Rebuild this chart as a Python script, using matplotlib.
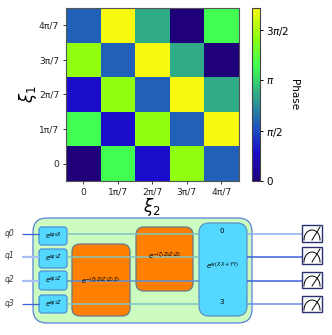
#!/usr/bin/env python3
"""Phase heatmap above the circuit sketch it comes from."""
import numpy as np
import matplotlib
matplotlib.use("Agg")
import matplotlib.pyplot as plt
from matplotlib.colors import LinearSegmentedColormap
from matplotlib.patches import FancyBboxPatch, Rectangle

# phase values in units of pi/7, rows from xi_1 = 0 upwards
phase_units = [
    [0, 8, 2, 10, 4],
    [8, 2, 10, 4, 12],
    [2, 10, 4, 12, 6],
    [10, 4, 12, 6, 0],
    [4, 12, 6, 0, 8],
]
tick_labels = ["0", "1π/7", "2π/7", "3π/7", "4π/7"]
cbar_ticks = [0, np.pi / 2, np.pi, 3 * np.pi / 2]
cbar_labels = ["0", r"$\pi/2$", r"$\pi$", r"$3\pi/2$"]
cmap_colors = ["#20007a", "#1a0dcc", "#2060b8", "#30aa88", "#40ff50", "#90ff10", "#f8f810"]

qubit_names = ["q0", "q1", "q2", "q3"]
rx_labels = [r"$e^{i\varphi_0 X}$", r"$e^{i\varphi_1 Z}$", r"$e^{i\varphi_2 Z}$", r"$e^{i\varphi_3 Z}$"]

W, H = 332, 335
fig = plt.figure(figsize=(W / 100, H / 100), dpi=100)


def px_axes(x0, y0, x1, y1):
    return fig.add_axes([x0 / W, 1 - y1 / H, (x1 - x0) / W, (y1 - y0) / H])


# heatmap
cmap = LinearSegmentedColormap.from_list("phase", cmap_colors)
phase = np.array(phase_units) * np.pi / 7
ax = px_axes(66, 8, 238.5, 181)
im = ax.imshow(phase, origin="lower", cmap=cmap, vmin=0, vmax=12 * np.pi / 7, aspect="auto")
ax.set_xticks(range(5), tick_labels, fontsize=6.6)
ax.set_yticks(range(5), tick_labels, fontsize=6.6)
ax.tick_params(length=2.5, width=0.7, pad=2.5, color="#333333", labelcolor="#222222")
ax.set_xlabel(r"$\xi_2$", fontsize=12, labelpad=-1)
ax.set_ylabel(r"$\xi_1$", fontsize=12, labelpad=0)
for s in ax.spines.values():
    s.set_color("#555555")
    s.set_linewidth(0.8)

cax = px_axes(251.5, 8, 260, 181)
cb = fig.colorbar(im, cax=cax)
cb.set_ticks(cbar_ticks, labels=cbar_labels, fontsize=7.5)
cb.ax.tick_params(length=2.5, width=0.7, pad=2)
cb.outline.set_linewidth(0.8)
cb.outline.set_edgecolor("#444444")
cb.set_label("Phase", rotation=270, fontsize=7.5, labelpad=7)

# circuit, drawn in pixel coordinates
cx = fig.add_axes([0, 0, 1, 1], zorder=-1)
cx.set_xlim(0, W)
cx.set_ylim(H, 0)
cx.axis("off")


def box(x0, y0, x1, y1, face, edge, r=5, lw=0.9):
    cx.add_patch(FancyBboxPatch((x0 + r, y0 + r), x1 - x0 - 2 * r, y1 - y0 - 2 * r,
                                boxstyle=f"round,pad={r},rounding_size={r}",
                                fc=face, ec=edge, lw=lw))


wire_y = [234, 257, 281, 304]
left_col = ["#3a62d8", "#a8c0f4", "#a8c0f4", "#3a62d8"]
right_col = ["#8cb0f0", "#3a62d8", "#3a62d8", "#6a90e8"]
inner_col = ["#80c4c4", "#80c4c4", "#5a90d0", "#80c4c4"]
box(33, 218, 252, 323, "#ccfcc0", "#5a80d8", r=14)
for y, lc, rc, ic in zip(wire_y, left_col, right_col, inner_col):
    cx.plot([22, 39], [y, y], color=lc, lw=0.9 if lc == "#3a62d8" else 1.6, solid_capstyle="butt")
    cx.plot([67, 199], [y, y], color=ic, lw=1.1, solid_capstyle="butt")
    cx.plot([247, 302], [y, y], color=rc, lw=1.1, solid_capstyle="butt")

small_boxes = [(227, 245), (249, 268), (271, 290), (295, 313)]
for (y0, y1), lab, name, y in zip(small_boxes, rx_labels, qubit_names, wire_y):
    box(39, y0, 67, y1, "#55d8ff", "#4a90d8", r=3)
    cx.text(53, (y0 + y1) / 2, lab, fontsize=5, ha="center", va="center")
    cx.text(10, y - 1, name, fontsize=5.5, style="italic",
            ha="center", va="center", color="#333333")

box(72, 244, 130, 316, "#ff8000", "#667788", r=8)
cx.text(101, 281, r"$e^{-i\zeta_0 Z_0 Z_1 Z_2 Z_3}$", fontsize=5, ha="center", va="center")
box(136, 227, 193, 291, "#ff8000", "#667788", r=8)
cx.text(165, 256, r"$e^{-i\zeta_1 Z_0 Z_1 Z_2}$", fontsize=5, ha="center", va="center")
box(199, 223, 247, 316, "#55d8ff", "#5a90c8", r=10)
cx.text(222, 231, "0", fontsize=5, ha="center", va="center")
cx.text(222, 266, r"$e^{i\kappa(XX+YY)}$", fontsize=5, ha="center", va="center")
cx.text(222, 302, "3", fontsize=5, ha="center", va="center")

# measurement boxes, dome and needle as plain lines
meter_boxes = [(225, 242), (247, 264), (272, 288), (296, 312)]
theta = np.linspace(0, np.pi, 30)
for y0, y1 in meter_boxes:
    cx.add_patch(Rectangle((302, y0), 20, y1 - y0, fc="white", ec="#2a3070", lw=1.0, zorder=3))
    cx.plot(312 + 8 * np.cos(theta), y1 - 2 - 10 * np.sin(theta), color="black", lw=0.7, zorder=4)
    cx.plot([312, 320], [y1 - 2, y0 + 2], color="black", lw=0.7, zorder=4)

fig.savefig("out.png", dpi=100)
